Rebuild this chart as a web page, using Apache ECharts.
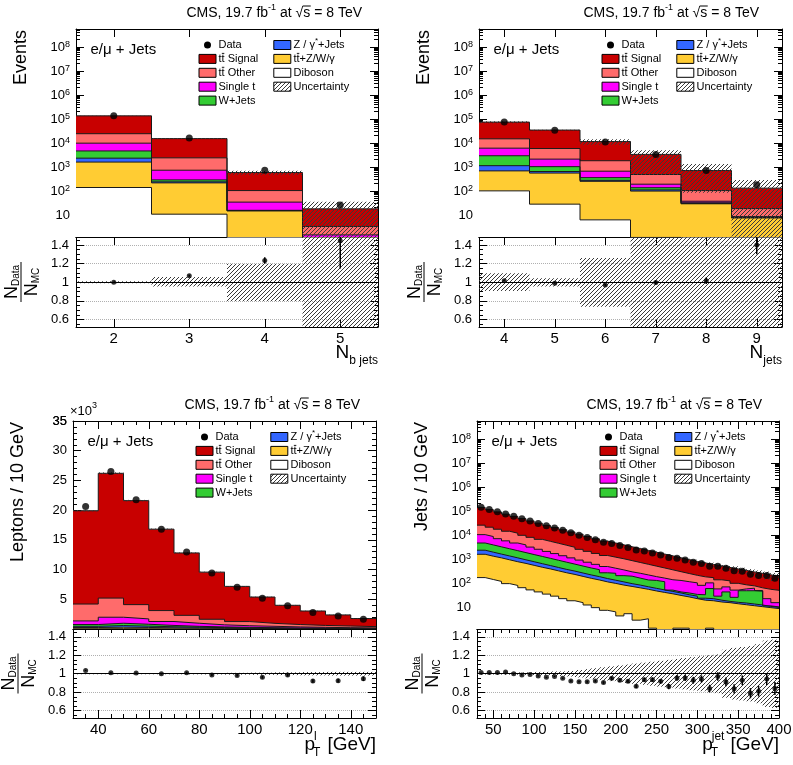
<!DOCTYPE html>
<html>
<head>
<meta charset="utf-8">
<title>CMS 8 TeV e/mu + jets control distributions</title>
<script src="https://cdn.jsdelivr.net/npm/echarts@6.0.0/dist/echarts.min.js"></script>
<style>
html,body{margin:0;padding:0;background:#ffffff;}
#chart{width:793px;height:765px;}
</style>
</head>
<body>
<div id="chart"></div>
<script>
// ===================== DATA =====================
// "Top" arrays = height of the MC stack after adding that process
// (stack order bottom -> top: Diboson, tt+Z/W/gamma, Z/gamma*+Jets, W+Jets, Single t, tt Other, tt Signal)

// ---- (a) number of b jets ----
const nbjetsTicks = [2, 3, 4, 5];
const nbjetsBinEdges = [1.5, 2.5, 3.5, 4.5, 5.5];
const nbjetsData = [135000, 16000, 725, 26];
const nbjetsTopSignal = [133000, 15000, 580, 17.8];
const nbjetsTopOther = [24000, 2370, 103, 3.3];
const nbjetsTopSingleT = [9700, 725, 34, 1.47];
const nbjetsTopWJets = [4600, 287, 15.5, 1.1];
const nbjetsTopZJets = [2300, 237, 15.0, 1.0];
const nbjetsTopTTV = [1580, 215, 14.7, 0.9];
const nbjetsTopDiboson = [138, 10.7, 0.8, 0.3];
const nbjetsRatio = [1.0, 1.07, 1.233, 1.446];
const nbjetsRatioErr = [0.005, 0.01, 0.035, 0.30];
const nbjetsUncUp = [0.01, 0.057, 0.195, 0.97];
const nbjetsUncDown = [0.01, 0.047, 0.20, 0.99];

// ---- (b) number of jets ----
const njetsTicks = [4, 5, 6, 7, 8, 9];
const njetsBinEdges = [3.5, 4.5, 5.5, 6.5, 7.5, 8.5, 9.5];
const njetsData = [74200, 33600, 10970, 3290, 712, 182];
const njetsTopSignal = [73000, 34000, 11300, 3300, 700, 130];
const njetsTopOther = [14700, 5800, 1800, 480, 103, 18.3];
const njetsTopSingleT = [6000, 2100, 660, 190, 37, 8.5];
const njetsTopWJets = [2900, 1020, 355, 135, 32, 7.9];
const njetsTopZJets = [1120, 640, 275, 110, 30, 7.7];
const njetsTopTTV = [680, 550, 250, 98, 29, 7.5];
const njetsTopDiboson = [100, 28, 6.2, 1.15, 0.5, 0.3];
const njetsRatio = [1.017, 0.989, 0.971, 0.996, 1.017, 1.40];
const njetsRatioErr = [0.005, 0.006, 0.01, 0.02, 0.035, 0.10];
const njetsUncUp = [0.097, 0.043, 0.26, 0.5, 0.9, 1.2];
const njetsUncDown = [0.094, 0.047, 0.264, 0.86, 0.88, 0.995];

// ---- (c) lepton pT ----
const lepPtTicks = [40, 60, 80, 100, 120, 140];
const lepPtBinEdges = [30, 40, 50, 60, 70, 80, 90, 100, 110, 120, 130, 140, 150];
const lepData = [20600, 26500, 21750, 16800, 12950, 9440, 7040, 5170, 3930, 2790, 2190, 1660];
const lepTopSignal = [19900, 26200, 21600, 16800, 12800, 9570, 7170, 5380, 3990, 3030, 2370, 1760];
const lepTopOther = [4200, 5200, 4100, 3100, 2300, 1640, 1250, 950, 750, 600, 500, 400];
const lepTopSingleT = [1360, 1980, 1700, 1260, 970, 700, 550, 450, 350, 280, 220, 180];
const lepTopWJets = [750, 970, 800, 600, 450, 350, 280, 220, 170, 140, 110, 90];
const lepTopZJets = [450, 580, 480, 380, 300, 230, 180, 140, 110, 90, 70, 60];
const lepTopTTV = [250, 300, 260, 200, 160, 120, 100, 80, 60, 50, 40, 30];
const lepTopDiboson = [40, 50, 40, 30, 30, 20, 20, 15, 12, 10, 8, 6];
const lepRatio = [1.036, 1.011, 1.007, 1.0, 1.011, 0.986, 0.982, 0.961, 0.986, 0.921, 0.925, 0.946];
const lepRatioErr = [0.007, 0.006, 0.007, 0.008, 0.009, 0.01, 0.012, 0.014, 0.016, 0.019, 0.021, 0.025];
const lepUnc = [0.006, 0.006, 0.006, 0.006, 0.007, 0.008, 0.01, 0.012, 0.015, 0.018, 0.02, 0.02];

// ---- (d) jet pT ----
const jetPtTicks = [50, 100, 150, 200, 250, 300, 350, 400];
const jetPtBinEdges = [30, 40, 50, 60, 70, 80, 90, 100, 110, 120, 130, 140, 150, 160, 170, 180, 190, 200, 210,
  220, 230, 240, 250, 260, 270, 280, 290, 300, 310, 320, 330, 340, 350, 360, 370, 380, 390, 400];
const jetData = [141000, 113800, 91500, 74100, 58900, 46600, 37700, 29900, 23800, 19500, 15500, 12200, 9690, 7780,
  6300, 4970, 4340, 3560, 2950, 2320, 2110, 1770, 1455, 1145, 1060, 890, 726, 637, 492, 493, 402, 319, 307, 226, 202, 204, 157];
const jetTopSignal = [139000, 112200, 90200, 72800, 58900, 47300, 38000, 30700, 24800, 20100, 16300, 13200, 10600, 8510,
  6840, 5500, 4570, 3830, 3210, 2690, 2250, 1890, 1585, 1330, 1110, 933, 782, 676, 586, 508, 441, 382, 331, 287, 249, 216, 187];
const jetTopOther = [25300, 20800, 17100, 14100, 11700, 9570, 7870, 6490, 5360, 4440, 3670, 3030, 2490, 2050,
  1680, 1380, 1175, 1007, 843, 708, 593, 497, 417, 349, 292, 245, 206, 178, 165, 134, 121, 96, 83, 75, 62, 54, 49];
const jetTopSingleT = [10200, 8510, 6920, 5620, 4570, 3800, 3090, 2510, 2040, 1660, 1350, 1100, 890, 725,
  590, 480, 407, 347, 288, 251, 214, 182, 158, 135, 126, 112, 100, 79, 100, 56, 68, 50, 56, 60, 48, 22, 15];
const jetTopWJets = [4570, 3800, 3160, 2630, 2190, 1820, 1510, 1260, 1050, 871, 724, 603, 501, 417,
  355, 263, 251, 200, 190, 158, 132, 126, 112, 50, 42, 38, 33, 32, 58, 28, 42, 25, 47, 47, 45, 11, 10];
const jetTopZJets = [2290, 1900, 1580, 1320, 1100, 912, 759, 631, 525, 437, 363, 309, 257, 214,
  182, 151, 129, 110, 93, 81, 69, 59, 51, 44, 38, 32, 28, 23, 22, 19, 17, 15.5, 14.5, 13.2, 12, 10.5, 9.5];
const jetTopTTV = [1550, 1290, 1100, 912, 759, 646, 537, 447, 380, 316, 263, 224, 186, 155,
  132, 110, 95, 81, 71, 62, 54, 46, 40, 35, 30, 26, 22, 19, 18, 16, 15, 13.5, 12.3, 11.2, 10.2, 9.3, 8.5];
const jetTopDiboson = [166, 138, 115, 93, 78, 63, 51, 42, 34, 28, 22, 18, 15, 12,
  9.3, 7.2, 6.2, 4.2, 5.2, 2.8, 3.2, 1.3, 1.0, 0.8, 1.3, 1.3, 0.6, 0.6, 1.3, 0.6, 0.6, 0.6, 0.6, 0.6, 0.6, 0.6, 0.6];
const jetRatio = [1.014, 1.014, 1.014, 1.018, 1.0, 0.986, 0.993, 0.975, 0.961, 0.971, 0.95, 0.921, 0.914, 0.914,
  0.921, 0.904, 0.95, 0.929, 0.918, 0.864, 0.936, 0.936, 0.918, 0.861, 0.954, 0.954, 0.929, 0.943, 0.839, 0.971,
  0.911, 0.836, 0.929, 0.789, 0.811, 0.943, 0.839];
const jetRatioErr = [0.003, 0.003, 0.003, 0.004, 0.004, 0.005, 0.005, 0.006, 0.006, 0.007, 0.008, 0.009, 0.01, 0.011,
  0.012, 0.014, 0.015, 0.016, 0.018, 0.02, 0.021, 0.023, 0.026, 0.028, 0.031, 0.034, 0.037, 0.039, 0.042, 0.046,
  0.048, 0.05, 0.053, 0.055, 0.058, 0.064, 0.07];
const jetUnc = [0.01, 0.01, 0.01, 0.012, 0.012, 0.015, 0.015, 0.02, 0.02, 0.025, 0.025, 0.03, 0.04, 0.05,
  0.06, 0.07, 0.08, 0.09, 0.10, 0.11, 0.12, 0.13, 0.14, 0.15, 0.16, 0.17, 0.18, 0.19, 0.20, 0.21,
  0.26, 0.28, 0.29, 0.30, 0.32, 0.36, 0.37];

// ---- shared axis tick labels ----
const logYTicks = [10, 100, 1e3, 1e4, 1e5, 1e6, 1e7, 1e8];
const lepYTicks = [5000, 10000, 15000, 20000, 25000, 30000, 35000];
const ratioTicks = [0.6, 0.8, 1, 1.2, 1.4];

const processNames = ['tt\u0304 Signal', 'tt\u0304 Other', 'Single t', 'W+Jets', 'Z / \u03B3*+Jets', 'tt\u0304+Z/W/\u03B3', 'Diboson'];

// ===================== STYLE =====================
const FONT = '"Liberation Sans", Arial, Helvetica, sans-serif';
const COLORS = ['#c80000', '#ff6b6b', '#ff00ff', '#33cc33', '#3366ff', '#ffcc33', '#ffffff'];

const hatchCanvas = (function () {
  const n = 4;
  const c = document.createElement('canvas'); c.width = n; c.height = n;
  const g = c.getContext('2d'); g.strokeStyle = '#3a3a3a'; g.lineWidth = 1;
  g.beginPath(); g.moveTo(0, n); g.lineTo(n, 0); g.moveTo(-1, 1); g.lineTo(1, -1); g.moveTo(n - 1, n + 1); g.lineTo(n + 1, n - 1); g.stroke();
  return c;
})();
const hatchFill = { image: hatchCanvas, repeat: 'repeat' };

const mctx = document.createElement('canvas').getContext('2d');
function tw(t, s) { mctx.font = s + 'px ' + FONT; return mctx.measureText(t).width; }

// minor tick positions (styling only)
const logMinor = []; for (let e = 0; e <= 8; e++) for (let k = 2; k <= 9; k++) { const v = k * Math.pow(10, e); if (v > 1.2 && v < 5.5e8) logMinor.push(v); }
const ratioMinor = []; for (let i = 11; i <= 29; i++) if (i % 4 !== 0) ratioMinor.push(+(i * 0.05).toFixed(2));
const lepYMinor = []; for (let v = 1000; v < 35000; v += 1000) if (v % 5000 !== 0) lepYMinor.push(v);
const lepXMinor = []; for (let v = 30; v <= 150; v += 5) if (v % 20 !== 0) lepXMinor.push(v);
const jetXMinor = []; for (let v = 30; v <= 400; v += 10) if (v % 50 !== 0) jetXMinor.push(v);

const panels = [
  { left: 76, top: 29, width: 302, mainH: 208, ratioH: 90, edges: nbjetsBinEdges, xTicks: nbjetsTicks, xMinor: [],
    yType: 'log', yMin: 1.2, yMax: 5.5e8, yTicks: logYTicks, yMinor: logMinor,
    layers: [nbjetsTopSignal, nbjetsTopOther, nbjetsTopSingleT, nbjetsTopWJets, nbjetsTopZJets, nbjetsTopTTV, nbjetsTopDiboson],
    data: nbjetsData, ratio: nbjetsRatio, ratioErr: nbjetsRatioErr, uncUp: nbjetsUncUp, uncDown: nbjetsUncDown,
    titleX: 362 },
  { left: 479, top: 29, width: 303, mainH: 208, ratioH: 90, edges: njetsBinEdges, xTicks: njetsTicks, xMinor: [],
    yType: 'log', yMin: 1.2, yMax: 5.5e8, yTicks: logYTicks, yMinor: logMinor,
    layers: [njetsTopSignal, njetsTopOther, njetsTopSingleT, njetsTopWJets, njetsTopZJets, njetsTopTTV, njetsTopDiboson],
    data: njetsData, ratio: njetsRatio, ratioErr: njetsRatioErr, uncUp: njetsUncUp, uncDown: njetsUncDown,
    titleX: 759 },
  { left: 73, top: 421, width: 303, mainH: 208, ratioH: 89, edges: lepPtBinEdges, xTicks: lepPtTicks, xMinor: lepXMinor,
    yType: 'value', yMin: 0, yMax: 35000, yTicks: lepYTicks, yMinor: lepYMinor,
    layers: [lepTopSignal, lepTopOther, lepTopSingleT, lepTopWJets, lepTopZJets, lepTopTTV, lepTopDiboson],
    data: lepData, ratio: lepRatio, ratioErr: lepRatioErr, uncUp: lepUnc, uncDown: lepUnc,
    titleX: 360 },
  { left: 477, top: 421, width: 302, mainH: 208, ratioH: 89, edges: jetPtBinEdges, xTicks: jetPtTicks, xMinor: jetXMinor,
    yType: 'log', yMin: 1.2, yMax: 5.5e8, yTicks: logYTicks, yMinor: logMinor,
    layers: [jetTopSignal, jetTopOther, jetTopSingleT, jetTopWJets, jetTopZJets, jetTopTTV, jetTopDiboson],
    data: jetData, ratio: jetRatio, ratioErr: jetRatioErr, uncUp: jetUnc, uncDown: jetUnc,
    titleX: 762 }
];

// ===================== BUILD OPTION =====================
const grids = [], xAxes = [], yAxes = [], series = [];
const BLACK = '#000';

function makeX(gi, min, max, pos, ticks, len, withLine, labels) {
  return {
    type: 'value', gridIndex: gi, position: pos, min: min, max: max,
    axisLine: withLine ? { show: true, onZero: false, lineStyle: { color: BLACK, width: 1 } } : { show: false, onZero: false },
    axisTick: ticks.length ? { show: true, inside: true, length: len, customValues: ticks, lineStyle: { color: BLACK, width: 1 } } : { show: false },
    axisLabel: labels ? { show: true, customValues: ticks, color: BLACK, fontFamily: FONT, fontSize: 15, margin: 4, showMinLabel: true, showMaxLabel: true, hideOverlap: false, formatter: v => String(v) } : { show: false },
    splitLine: { show: false }, splitArea: { show: false }, axisPointer: { show: false }
  };
}
function makeY(gi, cfg, pos, ticks, len, withLine, labels, split) {
  const a = {
    type: cfg.type, gridIndex: gi, position: pos, min: cfg.min, max: cfg.max,
    axisLine: withLine ? { show: true, onZero: false, lineStyle: { color: BLACK, width: 1 } } : { show: false, onZero: false },
    axisTick: ticks.length ? { show: true, inside: true, length: len, customValues: ticks, lineStyle: { color: BLACK, width: 1 } } : { show: false },
    axisLabel: { show: false },
    splitLine: split ? { show: true, lineStyle: { color: '#b0b0b0', type: 'dotted', width: 1 } } : { show: false },
    splitArea: { show: false }, axisPointer: { show: false }
  };
  if (cfg.type === 'log') a.logBase = 10;
  if (labels) a.axisLabel = Object.assign({ show: true, customValues: ticks, color: BLACK, fontFamily: FONT, fontSize: 13, margin: cfg.margin, showMinLabel: true, showMaxLabel: true, hideOverlap: false }, labels);
  return a;
}

const logLabel = {
  formatter: function (v) { const n = Math.round(Math.log10(v)); return n === 1 ? '{b|10}' : '{b|10}{s|' + n + '}'; },
  rich: {
    b: { fontSize: 13, fontFamily: FONT, color: BLACK, verticalAlign: 'bottom', lineHeight: 14 },
    s: { fontSize: 9, fontFamily: FONT, color: BLACK, verticalAlign: 'top', lineHeight: 10, padding: [0, 0, 6, 0] }
  }
};
const lepLabelFmt = v => String(Math.round(v / 1000));
const lepLabel = { formatter: lepLabelFmt };
const ratioLabel = { formatter: v => (Math.abs(v - 1) < 1e-9 ? '1' : v.toFixed(1)) };

function stepData(edges, vals) {
  const d = [];
  for (let i = 0; i < vals.length; i++) d.push([edges[i], vals[i]]);
  d.push([edges[vals.length], vals[vals.length - 1]]);
  return d;
}
function bandRender(params, api) {
  const cs = params.coordSys;
  const a = api.coord([api.value(0), api.value(3)]);
  const b = api.coord([api.value(1), api.value(2)]);
  let top = a[1], bot = b[1];
  const yB = cs.y + cs.height;
  if (!isFinite(bot) || bot > yB) bot = yB;
  if (!isFinite(top) || top < cs.y) top = cs.y;
  if (bot <= top) return null;
  return { type: 'rect', shape: { x: a[0], y: top, width: b[0] - a[0], height: bot - top }, style: { fill: hatchFill, stroke: null } };
}
function errRender(params, api) {
  const cs = params.coordSys;
  const x = api.value(0), y = api.value(1), e = api.value(2);
  const p1 = api.coord([x, y - e]), p2 = api.coord([x, y + e]);
  const yb = Math.min(p1[1], cs.y + cs.height), yt = Math.max(p2[1], cs.y);
  if (yb <= yt) return null;
  return { type: 'line', shape: { x1: p1[0], y1: yb, x2: p1[0], y2: yt }, style: { stroke: BLACK, lineWidth: 1.5 } };
}

panels.forEach((p, k) => {
  const gMain = 2 * k, gRat = 2 * k + 1;
  const xMin = p.edges[0], xMax = p.edges[p.edges.length - 1];
  grids.push({ left: p.left, top: p.top, width: p.width, height: p.mainH, containLabel: false, outerBoundsMode: 'none' });
  grids.push({ left: p.left, top: p.top + p.mainH, width: p.width, height: p.ratioH, containLabel: false, outerBoundsMode: 'none' });

  // main pad axes
  xAxes.push(makeX(gMain, xMin, xMax, 'bottom', p.xTicks, 8, true, false));
  xAxes.push(makeX(gMain, xMin, xMax, 'bottom', p.xMinor, 4, false, false));
  xAxes.push(makeX(gMain, xMin, xMax, 'top', p.xTicks, 8, true, false));
  xAxes.push(makeX(gMain, xMin, xMax, 'top', p.xMinor, 4, false, false));
  const yc = { type: p.yType, min: p.yMin, max: p.yMax, margin: 6 };
  yAxes.push(makeY(gMain, yc, 'left', p.yTicks, 8, true, p.yType === 'log' ? logLabel : lepLabel, false));
  yAxes.push(makeY(gMain, yc, 'left', p.yMinor, 4, false, null, false));
  yAxes.push(makeY(gMain, yc, 'right', p.yTicks, 8, true, null, false));
  yAxes.push(makeY(gMain, yc, 'right', p.yMinor, 4, false, null, false));
  // ratio pad axes
  xAxes.push(makeX(gRat, xMin, xMax, 'bottom', p.xTicks, 8, true, true));
  xAxes.push(makeX(gRat, xMin, xMax, 'bottom', p.xMinor, 4, false, false));
  xAxes.push(makeX(gRat, xMin, xMax, 'top', p.xTicks, 8, true, false));
  xAxes.push(makeX(gRat, xMin, xMax, 'top', p.xMinor, 4, false, false));
  const rc = { type: 'value', min: 0.52, max: 1.485, margin: 7 };
  yAxes.push(makeY(gRat, rc, 'left', ratioTicks, 8, true, ratioLabel, true));
  yAxes.push(makeY(gRat, rc, 'left', ratioMinor, 4, false, null, false));
  yAxes.push(makeY(gRat, rc, 'right', ratioTicks, 8, true, null, false));
  yAxes.push(makeY(gRat, rc, 'right', ratioMinor, 4, false, null, false));

  const mi = 4 * gMain, ri = 4 * gRat;
  const centers = p.data.map((_, i) => (p.edges[i] + p.edges[i + 1]) / 2);

  // stacked MC histograms (drawn from the top of the stack downwards, as ROOT's THStack)
  p.layers.forEach((vals, j) => {
    series.push({
      type: 'line', name: processNames[j], xAxisIndex: mi, yAxisIndex: mi, data: stepData(p.edges, vals),
      step: 'end', symbol: 'none', showSymbol: false, silent: true, clip: true, z: 2,
      lineStyle: { color: '#1a1a1a', width: 1 },
      areaStyle: { color: COLORS[j], opacity: 1, origin: 'start' }
    });
  });
  // MC uncertainty band (main)
  const total = p.layers[0];
  series.push({
    type: 'custom', name: 'Uncertainty', xAxisIndex: mi, yAxisIndex: mi, silent: true, z: 3,
    encode: { x: [0, 1], y: [2, 3] }, renderItem: bandRender,
    data: total.map((t, i) => [p.edges[i], p.edges[i + 1], Math.max(t * (1 - p.uncDown[i]), p.yType === 'log' ? 1e-3 : 0), t * (1 + p.uncUp[i])])
  });
  // data points (main)
  series.push({
    type: 'scatter', name: 'Data', xAxisIndex: mi, yAxisIndex: mi, silent: true, z: 4,
    symbol: 'circle', symbolSize: 7, itemStyle: { color: BLACK },
    data: p.data.map((v, i) => [centers[i], v])
  });
  // ratio band
  series.push({
    type: 'custom', name: 'Uncertainty', xAxisIndex: ri, yAxisIndex: ri, silent: true, z: 2,
    encode: { x: [0, 1], y: [2, 3] }, renderItem: bandRender,
    data: p.ratio.map((_, i) => [p.edges[i], p.edges[i + 1], 1 - p.uncDown[i], 1 + p.uncUp[i]])
  });
  // ratio error bars
  series.push({
    type: 'custom', name: 'Data', xAxisIndex: ri, yAxisIndex: ri, silent: true, z: 6,
    encode: { x: 0, y: 1 }, renderItem: errRender,
    data: p.ratio.map((r, i) => [centers[i], r, p.ratioErr[i]])
  });
  // ratio points + unity line
  series.push({
    type: 'scatter', name: 'Data', xAxisIndex: ri, yAxisIndex: ri, silent: true, z: 6,
    symbol: 'circle', symbolSize: 5, itemStyle: { color: BLACK },
    data: p.ratio.map((r, i) => [centers[i], r]),
    markLine: { silent: true, symbol: ['none', 'none'], label: { show: false }, animation: false,
      lineStyle: { color: BLACK, type: 'solid', width: 1 }, data: [{ yAxis: 1 }] }
  });
});

// ===================== TEXT / LEGENDS (graphic) =====================
function T(text, x, y, size, opts) {
  opts = opts || {};
  const al = opts.align || 'left', va = opts.va || 'middle';
  return { type: 'text', x: x, y: y, silent: true, rotation: opts.rot || 0,
    style: { text: text, fill: BLACK, fontSize: size, fontFamily: FONT, textAlign: al, textVerticalAlign: va, align: al, verticalAlign: va } };
}
function Ln(x1, y1, x2, y2, w) { return { type: 'line', silent: true, shape: { x1: x1, y1: y1, x2: x2, y2: y2 }, style: { stroke: BLACK, lineWidth: w || 1 } }; }

function cmsTitle(xr, cy) {
  const parts = [['CMS, 19.7 fb', 14, 0], ['-1', 9, -5], [' at ', 14, 0], ['\u221A', 14, 0], ['s', 14, 0], [' = 8 TeV', 14, 0]];
  let total = 0; parts.forEach(q => total += tw(q[0], q[1]));
  let x = xr - total; const els = []; let sq = 0, se = 0;
  parts.forEach(q => { els.push(T(q[0], x, cy + q[2], q[1])); x += tw(q[0], q[1]); if (q[0] === '\u221A') sq = x; if (q[0] === 's') se = x; });
  els.push(Ln(sq - 0.5, cy - 7, se + 0.5, cy - 7, 1));
  return els;
}
function titleN(xr, cy, sub) {
  const wS = tw(sub, 12), wN = tw('N', 19);
  return [T('N', xr - wS - wN, cy, 19), T(sub, xr - wS, cy + 7.5, 12)];
}
function titlePt(xr, cy, sup) {
  const wG = tw('[GeV]', 19), wp = tw('p', 19), wB = Math.max(tw(sup, 12), tw('T', 12)), gap = 6;
  const xG = xr - wG, xB = xG - gap - wB, xp = xB - wp + 1;
  return [T('p', xp, cy, 19), T(sup, xB, cy - 8, 12), T('T', xB - 1, cy + 8, 12), T('[GeV]', xG, cy, 19)];
}
function ratioTitle(cx, cy) {
  const wN = tw('N', 18), wD = tw('Data', 10), wM = tw('MC', 10);
  const n1 = -(wN + wD) / 2, n2 = -(wN + wM) / 2;
  return { type: 'group', x: cx, y: cy, rotation: Math.PI / 2, silent: true, children: [
    T('N', n1, -9, 18), T('Data', n1 + wN, -5, 10),
    Ln(-20, 0, 20, 0, 1),
    T('N', n2, 11, 18), T('MC', n2 + wN, 15, 10)
  ] };
}
function ttText(rest, x, cy) {
  const s = 11, w1 = tw('t', s), w2 = tw('tt', s);
  return [T('tt' + rest, x, cy, s), Ln(x + w1 + 0.3, cy - 5.5, x + w2 - 0.3, cy - 5.5, 0.9)];
}
function box(cx, cy, fill) {
  return { type: 'rect', silent: true, shape: { x: cx - 8.5, y: cy - 4.5, width: 17, height: 9 }, style: { fill: fill, stroke: BLACK, lineWidth: 1 } };
}
function legend(px, py) {
  const r = k => py + 16 + 13.9 * k;
  const c1 = px + 131.5, c2 = px + 206.3, t1 = px + 142.5, t2 = px + 217.5;
  let els = [];
  els.push({ type: 'circle', silent: true, shape: { cx: c1, cy: r(0), r: 3.5 }, style: { fill: BLACK } });
  els.push(T('Data', t1, r(0), 11));
  els.push(box(c1, r(1), COLORS[0])); els = els.concat(ttText(' Signal', t1, r(1)));
  els.push(box(c1, r(2), COLORS[1])); els = els.concat(ttText(' Other', t1, r(2)));
  els.push(box(c1, r(3), COLORS[2])); els.push(T('Single t', t1, r(3), 11));
  els.push(box(c1, r(4), COLORS[3])); els.push(T('W+Jets', t1, r(4), 11));
  els.push(box(c2, r(0), COLORS[4]));
  const wz = tw('Z / \u03B3', 11), ws = tw('*', 8);
  els.push(T('Z / \u03B3', t2, r(0), 11)); els.push(T('*', t2 + wz, r(0) - 4, 8)); els.push(T('+Jets', t2 + wz + ws, r(0), 11));
  els.push(box(c2, r(1), COLORS[5])); els = els.concat(ttText('+Z/W/\u03B3', t2, r(1)));
  els.push(box(c2, r(2), COLORS[6])); els.push(T('Diboson', t2, r(2), 11));
  els.push(box(c2, r(3), hatchFill)); els.push(T('Uncertainty', t2, r(3), 11));
  els.push(T('e/\u03BC + Jets', px + 14.5, py + 20.5, 15));
  return els;
}

let gEls = [];
panels.forEach((p, k) => {
  const right = p.left + p.width, rb = p.top + p.mainH + p.ratioH;
  gEls = gEls.concat(cmsTitle(p.titleX, p.top - 16));
  gEls = gEls.concat(legend(p.left, p.top));
  gEls.push(ratioTitle(p.left - 55, p.top + p.mainH + p.ratioH / 2));
  const yTitle = ['Events', 'Events', 'Leptons / 10 GeV', 'Jets / 10 GeV'][k];
  gEls.push(T(yTitle, p.left - 55, p.top + 1, 18, { align: 'right', rot: Math.PI / 2 }));
  if (k === 0) gEls = gEls.concat(titleN(right, rb + 26, 'b jets'));
  if (k === 1) gEls = gEls.concat(titleN(right, rb + 26, 'jets'));
  if (k === 2) gEls = gEls.concat(titlePt(right, rb + 27, 'l'));
  if (k === 3) gEls = gEls.concat(titlePt(right, rb + 27, 'jet'));
});
// top tick label of the linear lepton-pT axis sits exactly on the frame edge (axis hides it), plus the ROOT exponent
gEls.push(T(lepLabelFmt(lepYTicks[lepYTicks.length - 1]), 73 - 6, 421, 13, { align: 'right' }));
gEls.push(T('\u00D710', 70, 411, 13));
gEls.push(T('3', 70 + tw('\u00D710', 13), 406, 9));

const option = {
  animation: false,
  backgroundColor: '#ffffff',
  textStyle: { fontFamily: FONT },
  grid: grids, xAxis: xAxes, yAxis: yAxes, series: series,
  graphic: { elements: gEls }
};
const chart = echarts.init(document.getElementById('chart'), null, { renderer: 'canvas' });
chart.setOption(option);
</script>
</body>
</html>
